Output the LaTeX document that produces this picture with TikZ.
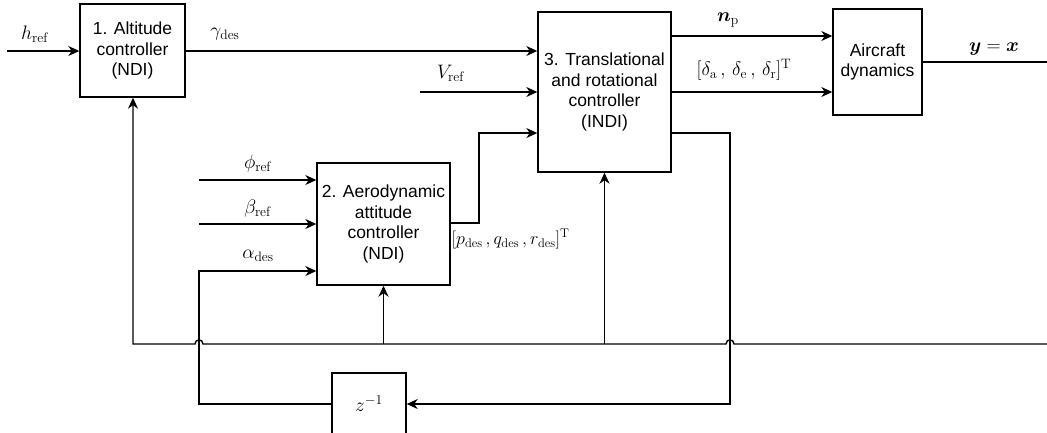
\RequirePackage{fix-cm}
\documentclass[tikz,border=0pt]{standalone}
\usepackage{amsmath}
\usepackage{bm}
\usepackage[no-math]{fontspec}
\setmainfont{Liberation Sans}
\usetikzlibrary{arrows.meta}
\begin{document}
\begin{tikzpicture}[x=1pt,y=-1pt,
  line width=1.4pt,
  blk/.style={draw,line width=1.4pt,fill=white,align=center,inner sep=0pt,
    font=\fontsize{17.5}{20.5}\selectfont},
  arr/.style={-{Stealth[length=11pt,width=10pt,inset=3.5pt]}},
  lbl/.style={font=\fontsize{19.5}{22}\selectfont,inner sep=0pt}]
\useasboundingbox[fill=white] (0,0) rectangle (1047,432);
% blocks
\node[blk,minimum width=105pt,minimum height=93pt] (b1) at (132.5,50.5) {1. Altitude\\controller\\(NDI)};
\node[blk,minimum width=133pt,minimum height=160pt] (b3) at (604.5,92) {3. Translational\\and rotational\\controller\\(INDI)};
\node[blk,minimum width=89pt,minimum height=106pt] (ac) at (877.5,62) {Aircraft\\dynamics};
\node[blk,minimum width=133pt,minimum height=122pt] (b2) at (383.5,224) {2. Aerodynamic\\attitude\\controller\\(NDI)};
\node[blk,minimum width=74pt,minimum height=62pt,font=\fontsize{19.5}{22}\selectfont] (z) at (369,404) {$z^{-1}$};
% free ends
\coordinate (hin) at (7,51);
\coordinate (vin) at (420,92);
\coordinate (phin) at (199,180);
\coordinate (bein) at (199,224);
\coordinate (yout) at (1047,62);
\coordinate (busR) at (1047,344);
% top inputs / outputs
\draw[arr] (hin) -- (hin -| b1.west);
\draw[arr] (b1.east |- 0,51) -- (b3.west |- 0,51);
\draw[arr] (vin) -- (vin -| b3.west);
\draw[arr] (b2.east |- 0,223) -- (479,223) -- (479,133) -- (b3.west |- 0,133);
\draw[arr] (b3.east |- 0,36) -- (ac.west |- 0,36);
\draw[arr] (b3.east |- 0,92) -- (ac.west |- 0,92);
\draw (ac.east) -- (yout);
% inputs to block 2
\draw[arr] (phin) -- (phin -| b2.west);
\draw[arr] (bein) -- (bein -| b2.west);
\draw[arr] (z.west) -- (199,404) -- (199,271) -- (b2.west |- 0,271);
% delay loop
\draw[arr] (b3.east |- 0,133) -- (730,133) -- (730,404) -- (z.east);
% bus with hops
\draw[arr] (busR) -- (734,344) .. controls (734,338.5) and (726,338.5) .. (726,344)
  -- (203,344) .. controls (203,338.5) and (195,338.5) .. (195,344)
  -- (133,344) -- (b1.south -| 133,0);
\draw[arr] (383.5,344) -- (b2.south);
\draw[arr] (604.5,344) -- (b3.south);
% labels
\node[lbl] (lh) at (35,34) {$h_{\mathrm{ref}}$};
\node[lbl] (lg) at (225,34) {$\gamma_{\mathrm{des}}$};
\node[lbl] (lv) at (451,73) {$V_{\mathrm{ref}}$};
\node[lbl] (ln) at (728,20) {$\bm{n}_{\mathrm{p}}$};
\node[lbl] (ld) at (744,70) {$[\delta_{\mathrm{a}}\,,\,\delta_{\mathrm{e}}\,,\,\delta_{\mathrm{r}}]^{\mathrm{T}}$};
\node[lbl] (ly) at (994,49) {$\bm{y}=\bm{x}$};
\node[lbl] (lphi) at (258,164) {$\phi_{\mathrm{ref}}$};
\node[lbl] (lbeta) at (258,209) {$\beta_{\mathrm{ref}}$};
\node[lbl] (lalpha) at (258,256) {$\alpha_{\mathrm{des}}$};
\node[lbl,anchor=west,font=\fontsize{18}{20}\selectfont] (lpqr) at (451,239) {$[p_{\mathrm{des}}\,,q_{\mathrm{des}}\,,r_{\mathrm{des}}]^{\mathrm{T}}$};
\end{tikzpicture}
\end{document}
